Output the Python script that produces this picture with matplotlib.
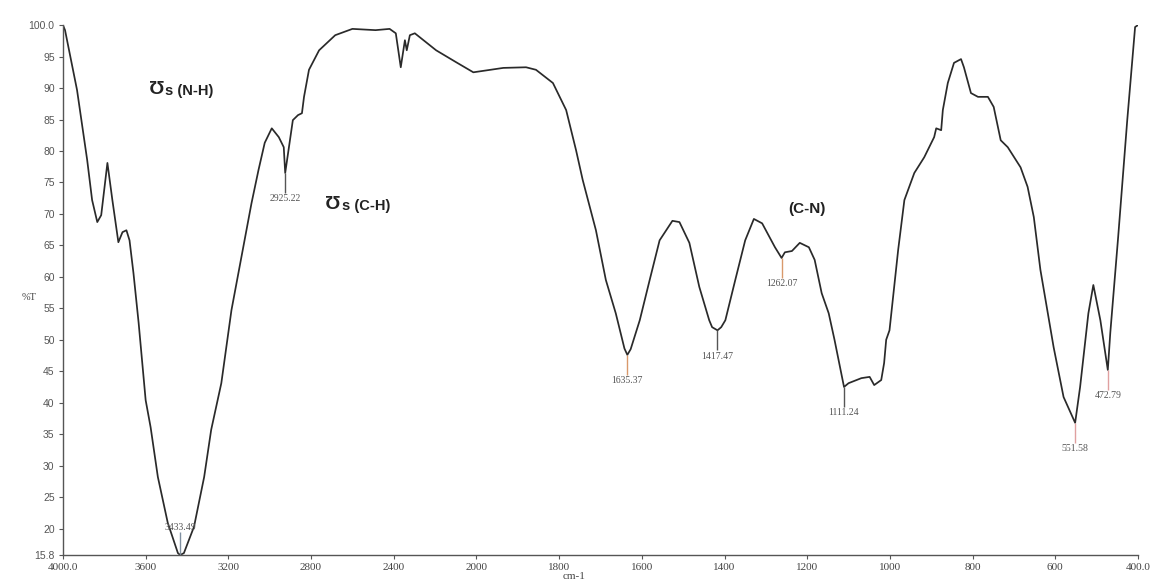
import numpy as np
import matplotlib
matplotlib.use("Agg")
import matplotlib.pyplot as plt

# ---------------- data ----------------
wavenumber = [4000, 3990, 3932, 3883, 3859, 3834, 3815, 3785, 3761, 3732, 3712, 3693, 3678,
              3659, 3634, 3600, 3576, 3541, 3493, 3444, 3433, 3415, 3366, 3317, 3283, 3234,
              3185, 3137, 3088, 3054, 3024, 2990, 2956, 2932, 2925, 2902, 2888, 2863, 2844,
              2834, 2810, 2761, 2683, 2600, 2488, 2420, 2390, 2366, 2346, 2337, 2322, 2298,
              2195, 2098, 2015, 1935, 1880, 1856, 1815, 1783, 1759, 1743, 1711, 1687, 1663,
              1642, 1635, 1627, 1605, 1581, 1557, 1526, 1509, 1485, 1461, 1437, 1430, 1417,
              1408, 1398, 1374, 1350,
              1329, 1309, 1278, 1262, 1254, 1237, 1218, 1196, 1182, 1165, 1148, 1134, 1111,
              1100, 1069, 1049, 1038, 1021, 1014, 1009, 1001, 980, 965, 941, 917, 893, 888,
              876, 872, 860, 845, 828, 821, 804, 787, 763, 749, 732, 715, 684, 667, 652, 636,
              604, 580, 552, 540, 520, 508, 491, 473, 467, 448, 426, 407, 400]
transmittance = [100.0, 99.2, 89.7, 78.6, 72.2, 68.7, 69.8, 78.1, 72.2, 65.5, 67.1, 67.4, 65.8,
                 60.6, 52.7, 40.4, 36.1, 28.2, 20.9, 16.1, 15.8, 16.1, 20.3, 28.2, 35.7, 43.1,
                 54.7, 63.1, 71.7, 77.0, 81.3, 83.6, 82.2, 80.6, 76.5, 81.7, 84.9, 85.7, 86.0,
                 88.6, 92.9, 96.0, 98.4, 99.4, 99.2, 99.4, 98.7, 93.3, 97.6, 96.0, 98.4, 98.7,
                 96.0, 94.1, 92.5, 93.2, 93.3, 92.9, 90.8, 86.5, 80.1, 75.4, 67.4, 59.5, 54.2,
                 48.6, 47.6, 48.5, 53.1, 59.5, 65.8, 68.9, 68.7, 65.4, 58.4, 53.1, 52.0, 51.5,
                 52.0, 53.1, 59.5, 65.8,
                 69.2, 68.5, 64.7, 63.0, 63.9, 64.1, 65.4, 64.7, 62.7, 57.4, 54.2, 50.0, 42.5,
                 43.1, 43.9, 44.1, 42.8, 43.6, 46.3, 50.0, 51.5, 64.3, 72.2, 76.5, 79.0, 82.2, 83.6,
                 83.3, 86.5, 90.8, 94.0, 94.6, 93.3, 89.2, 88.6, 88.6, 87.0, 81.7, 80.6, 77.4, 74.3,
                 69.5, 61.1, 48.8, 40.9, 36.8, 42.5, 54.2, 58.7, 53.1, 45.2, 51.1, 66.3, 84.9,
                 99.7, 100.0]

peak_wn = [3433.49, 2925.22, 1635.37, 1417.47, 1262.07, 1111.24, 551.58, 472.79]
peak_T = [15.8, 76.5, 47.6, 51.5, 63.0, 42.5, 36.8, 45.2]
peak_labels = ["3433.49", "2925.22", "1635.37", "1417.47", "1262.07", "1111.24", "551.58", "472.79"]
peak_colors = ["#7f8fa0", "#555555", "#d9996b", "#555555", "#d9996b", "#555555", "#e0a0a0", "#e0a0a0"]

x_ticks = [4000, 3600, 3200, 2800, 2400, 2000, 1800, 1600, 1400, 1200, 1000, 800, 600, 400]
x_ticklabels = ["4000.0", "3600", "3200", "2800", "2400", "2000", "1800", "1600", "1400",
                "1200", "1000", "800", "600", "400.0"]
y_ticks = [15.8, 20, 25, 30, 35, 40, 45, 50, 55, 60, 65, 70, 75, 80, 85, 90, 95, 100]
y_ticklabels = ["15.8", "20", "25", "30", "35", "40", "45", "50", "55", "60", "65", "70",
                "75", "80", "85", "90", "95", "100.0"]

# ---------------- figure ----------------
fig = plt.figure(figsize=(11.51, 5.84), dpi=100)
ax = fig.add_axes([0.0547, 0.0497, 0.9340, 0.9073])


# 2x expansion below 2000 cm-1 (piecewise-linear scale)
def fwd(x):
    x = np.asarray(x, dtype=float)
    return np.where(x >= 2000, x, 2 * x - 2000)


def inv(u):
    u = np.asarray(u, dtype=float)
    return np.where(u >= 2000, u, (u + 2000) / 2)


ax.set_xscale("function", functions=(fwd, inv))
ax.plot(wavenumber, transmittance, color="#2a2a2a", lw=1.25)
ax.set_xlim(4000, 400)
ax.set_ylim(15.8, 100)

for s in ["top", "right"]:
    ax.spines[s].set_visible(False)
for s in ["left", "bottom"]:
    ax.spines[s].set_color("#555555")
    ax.spines[s].set_linewidth(1.0)

ax.set_xticks(x_ticks)
ax.set_xticklabels(x_ticklabels, fontfamily="Liberation Serif", fontsize=8, color="#444444")
ax.xaxis.set_minor_locator(matplotlib.ticker.NullLocator())
ax.set_yticks(y_ticks)
ax.set_yticklabels(y_ticklabels, fontfamily="Liberation Sans", fontsize=7.5, color="#555555")
ax.tick_params(axis="both", length=3, width=0.8, color="#555555", pad=3)

# y label and x label
fig.text(0.019, 1 - 298 / 584, "%T", fontfamily="Liberation Serif", fontsize=7.5,
         color="#444444", ha="left", va="center")
fig.text(0.499, 1 - 572 / 584, "cm-1", fontfamily="Liberation Serif", fontsize=8,
         color="#444444", ha="center", va="top")

# peak markers and labels
for i, (w, t, lab, c) in enumerate(zip(peak_wn, peak_T, peak_labels, peak_colors)):
    if i == 0:
        ax.vlines(w, t, t + 3.6, color=c, lw=1.0)
        ax.text(w, t + 3.6, lab, ha="center", va="bottom", fontfamily="Liberation Serif",
                fontsize=7, color="#555555")
    else:
        ax.vlines(w, t - 3.2, t, color=c, lw=1.0)
        ax.text(w, t - 3.4, lab, ha="center", va="top", fontfamily="Liberation Serif",
                fontsize=7, color="#555555")

# band annotations
fam = ["Liberation Sans", "DejaVu Sans"]
ax.text(3585, 89.8, "\u01B1", fontsize=14, fontweight="bold", family=fam, color="#222222",
        ha="left", va="center")
ax.text(3505, 89.6, "s (N-H)", fontsize=10.5, fontweight="bold", family=fam, color="#222222",
        ha="left", va="center")
ax.text(2732, 71.5, "\u01B1", fontsize=14, fontweight="bold", family=fam, color="#222222",
        ha="left", va="center")
ax.text(2652, 71.3, "s (C-H)", fontsize=10.5, fontweight="bold", family=fam, color="#222222",
        ha="left", va="center")
ax.text(1245, 70.7, "(C-N)", fontsize=11, fontweight="bold", family=fam, color="#222222",
        ha="left", va="center")

fig.savefig("out.png", dpi=100, facecolor="white")
